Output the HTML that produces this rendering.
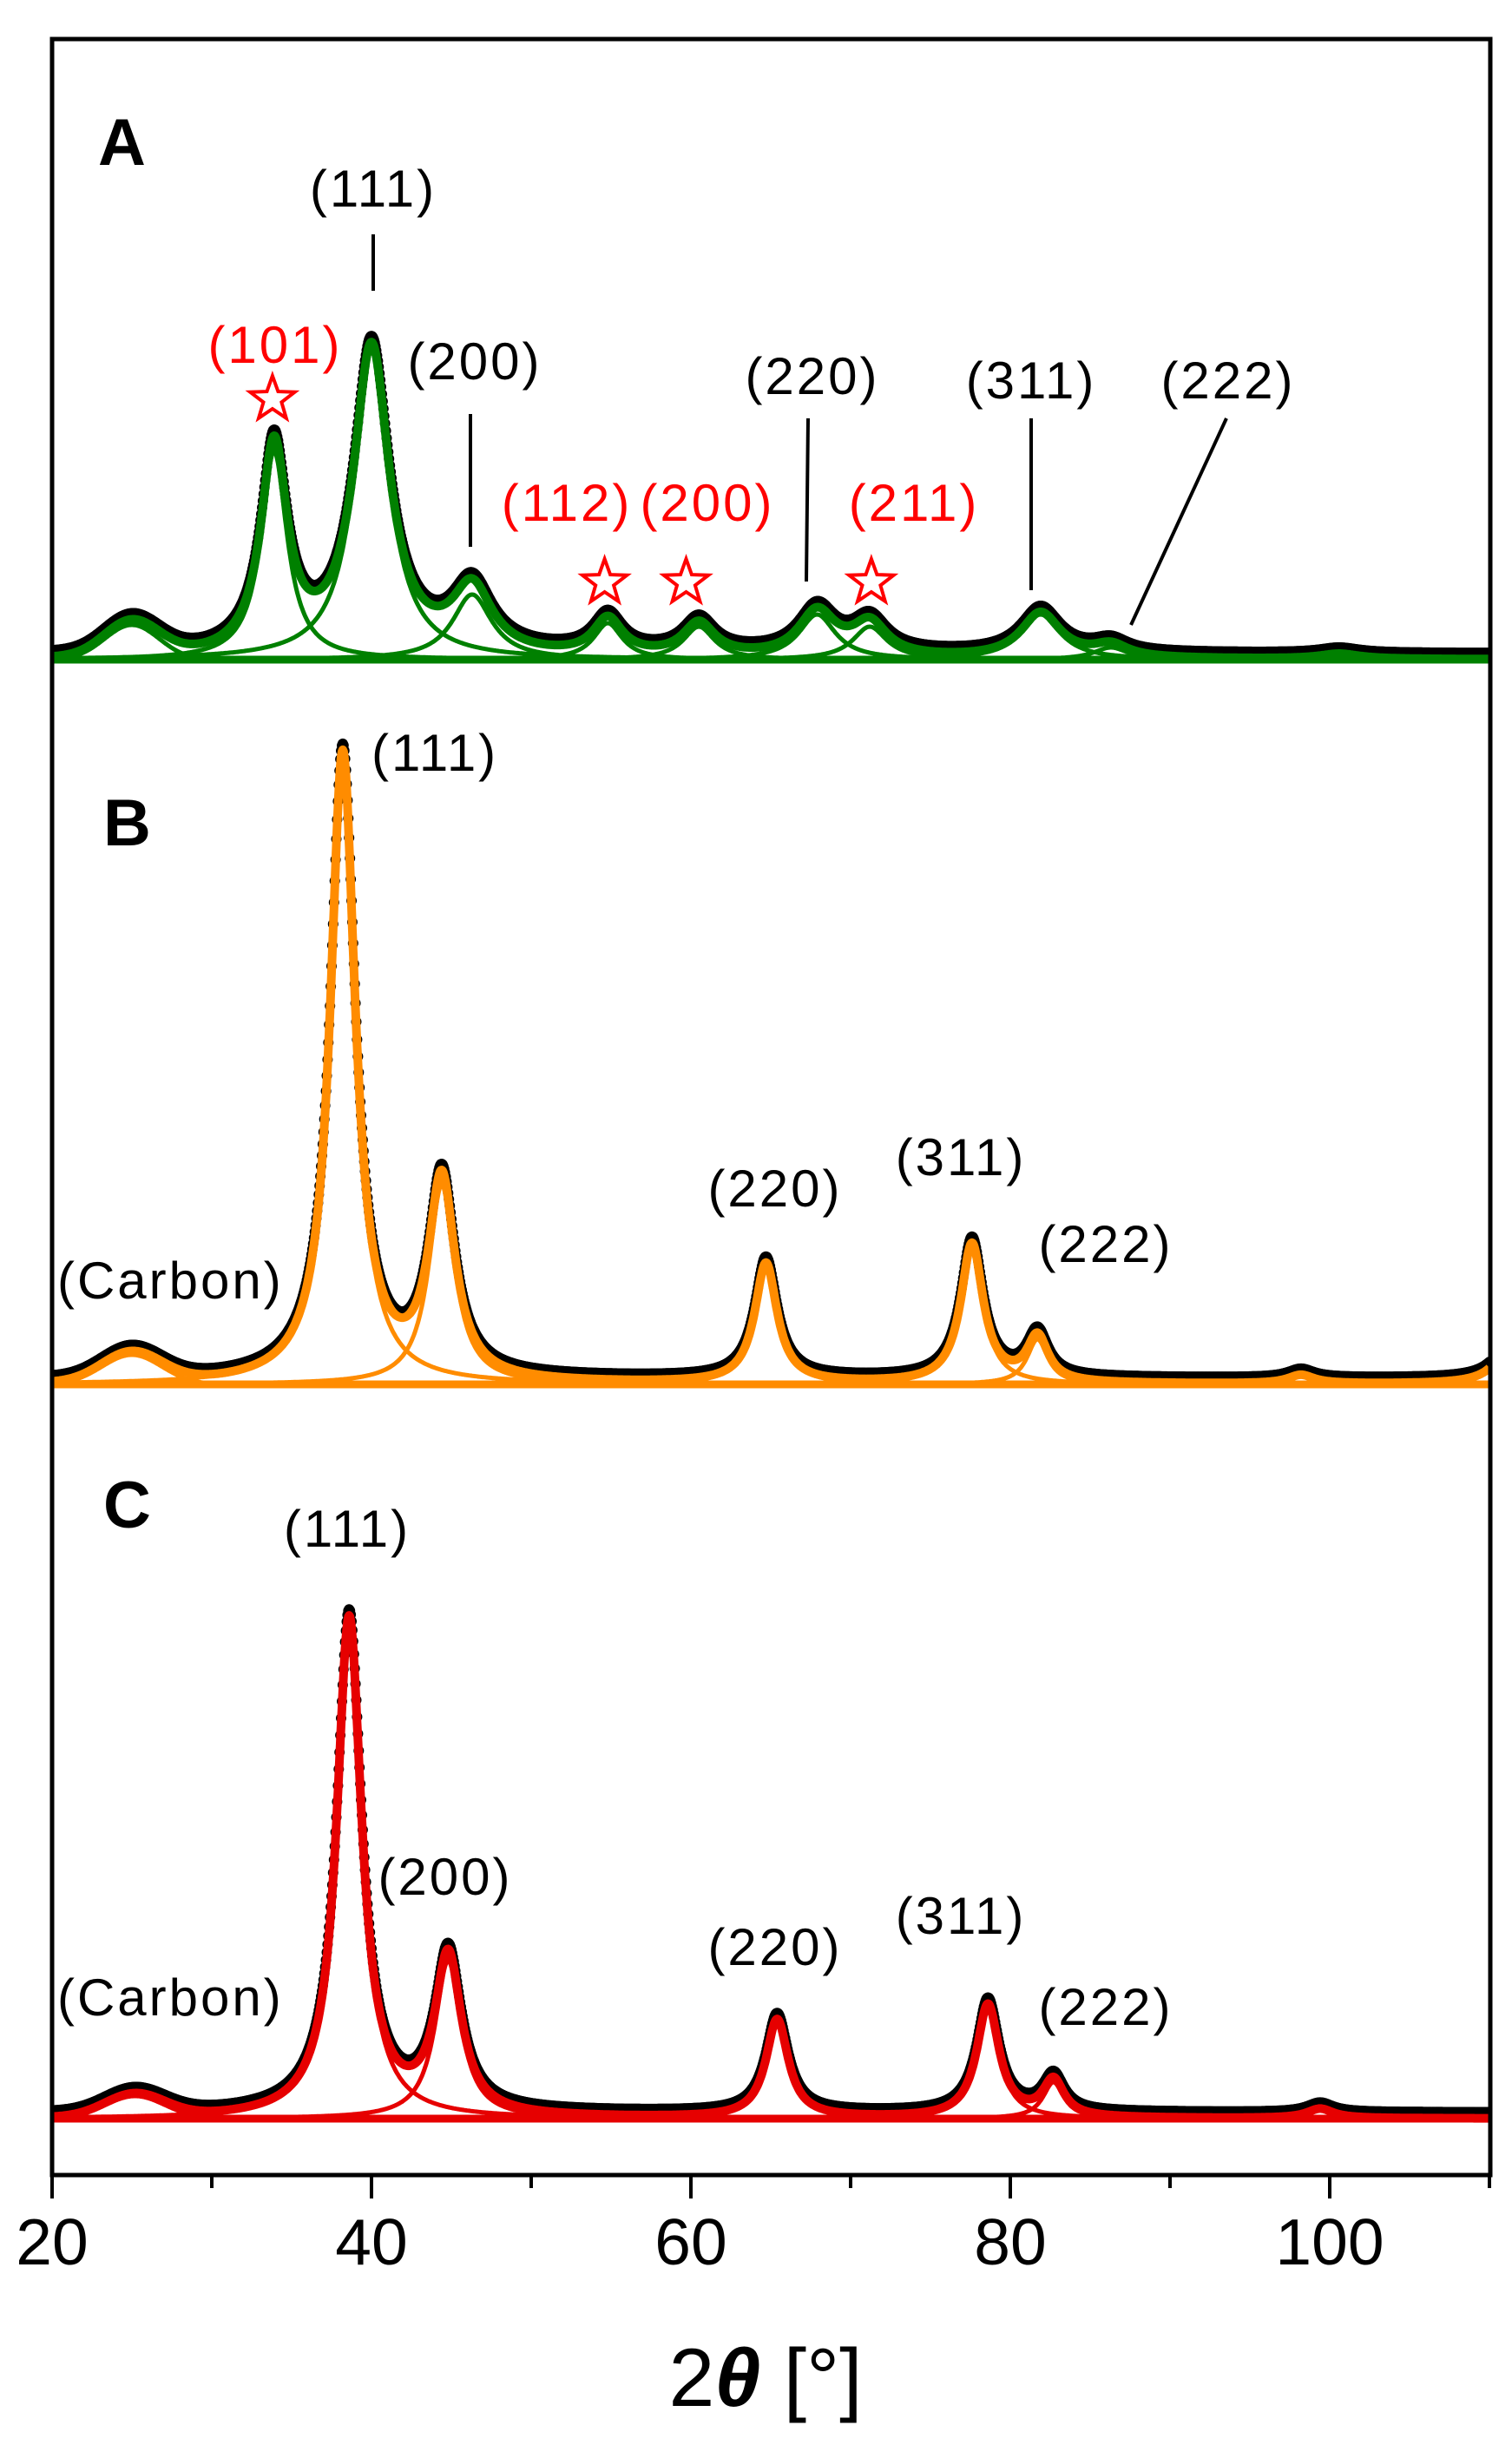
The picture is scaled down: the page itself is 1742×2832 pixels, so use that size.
<!DOCTYPE html>
<html><head><meta charset="utf-8"><style>
html,body{margin:0;padding:0;background:#fff;}
svg{display:block;}
text{font-family:"Liberation Sans",sans-serif;}
.hkl{font-size:60px;letter-spacing:3px;}
</style></head><body>
<svg id="chart" width="1742" height="2832" viewBox="0 0 1742 2832" xmlns="http://www.w3.org/2000/svg">
<defs><clipPath id="clip"><rect x="62" y="47" width="1653" height="2457"/></clipPath></defs>
<g id="plots" clip-path="url(#clip)"></g>
<rect x="60" y="45" width="1657" height="2461" fill="none" stroke="#000" stroke-width="5"/>
<g id="ticks"></g>
<text x="882" y="2772" font-size="95" text-anchor="middle">2<tspan font-weight="bold" font-style="italic">θ</tspan> [°]</text>

<text x="113" y="190" font-size="76" font-weight="bold">A</text>
<text x="119" y="974" font-size="76" font-weight="bold">B</text>
<text x="119" y="1760" font-size="76" font-weight="bold">C</text>

<g>
<text class="hkl" x="430" y="238" text-anchor="middle">(111)</text>
<line x1="430" y1="270" x2="430" y2="335" stroke="#000" stroke-width="4"/>
<text class="hkl" x="317" y="418" text-anchor="middle" fill="#ff0000">(101)</text>
<text class="hkl" x="547" y="437" text-anchor="middle">(200)</text>
<line x1="542" y1="477" x2="542" y2="630" stroke="#000" stroke-width="4"/>
<text class="hkl" x="653" y="600" text-anchor="middle" fill="#ff0000">(112)</text>
<text class="hkl" x="815" y="600" text-anchor="middle" fill="#ff0000">(200)</text>
<text class="hkl" x="936" y="454" text-anchor="middle">(220)</text>
<line x1="931" y1="482" x2="929" y2="670" stroke="#000" stroke-width="4"/>
<text class="hkl" x="1053" y="600" text-anchor="middle" fill="#ff0000">(211)</text>
<text class="hkl" x="1188" y="459" text-anchor="middle">(311)</text>
<line x1="1188" y1="482" x2="1188" y2="680" stroke="#000" stroke-width="4"/>
<text class="hkl" x="1415" y="459" text-anchor="middle">(222)</text>
<line x1="1413" y1="482" x2="1303" y2="720" stroke="#000" stroke-width="4"/>
<g id="stars"></g>
</g>
<g>
<text class="hkl" x="428" y="888">(111)</text>
<text class="hkl" x="66" y="1496">(Carbon)</text>
<text class="hkl" x="893" y="1390" text-anchor="middle">(220)</text>
<text class="hkl" x="1107" y="1354" text-anchor="middle">(311)</text>
<text class="hkl" x="1274" y="1454" text-anchor="middle">(222)</text>
</g>
<g>
<text class="hkl" x="400" y="1782" text-anchor="middle">(111)</text>
<text class="hkl" x="513" y="2183" text-anchor="middle">(200)</text>
<text class="hkl" x="66" y="2322">(Carbon)</text>
<text class="hkl" x="893" y="2264" text-anchor="middle">(220)</text>
<text class="hkl" x="1107" y="2228" text-anchor="middle">(311)</text>
<text class="hkl" x="1274" y="2333" text-anchor="middle">(222)</text>
</g>
</svg>
<script>
// x axis
const xTicks = [20,30,40,50,60,70,80,90,100,110];
const xTickLabels = ["20","","40","","60","","80","","100",""];
// Panel A peaks (2theta, height px, HWHM deg)
const posA = [25.0,33.9,40.0,46.3,54.8,60.5,67.9,71.2,81.9,86.3,100.6];
const hA   = [40,240,355,75,42,38,52,38,52,14,6];
const wA   = [2.0,1.0,1.35,1.5,1.1,1.2,1.4,1.3,1.5,1.3,1.5];
// Panel B peaks
const posB = [25.0,38.2,44.4,64.7,77.6,81.7,98.2,111.5];
const hB   = [34,725,230,138,160,52,10,60];
const wB   = [2.2,0.95,1.0,0.85,0.85,0.8,1.0,1.0];
// Panel C peaks
const posC = [25.2,38.6,44.8,65.4,78.6,82.7,99.4];
const hC   = [26,575,182,113,130,42,11];
const wC   = [2.2,0.95,1.0,0.85,0.85,0.8,1.0];
const starPos = [33.8,54.6,59.7,71.3];

const NS="http://www.w3.org/2000/svg";
function X(t){return 60+(t-20)*18.4;}
function mk(tag,attrs,parent){const e=document.createElementNS(NS,tag);for(const k in attrs)e.setAttribute(k,attrs[k]);parent.appendChild(e);return e;}
function prof(t,c,h,w,i){ if(i===0){return h*Math.exp(-Math.LN2*((t-c)/w)**2);} return h/(1+((t-c)/w)**2);}

const plots=document.getElementById('plots');
function panel(name,base,pos,hs,ws,color){
  const g=mk('g',{},plots);
  
  
  const step=0.05;
  const dg=mk('g',{fill:'#000'},g);
  
  
  for(let t=20;t<=110.01;t+=step){
    let s=0;for(let i=0;i<pos.length;i++)s+=prof(t,pos[i],hs[i],ws[i],i);
    mk('circle',{cx:X(t).toFixed(1),cy:(base-s-7).toFixed(1),r:6},dg);
  }
  for(let i=0;i<pos.length;i++){
    let d='';
    for(let t=20;t<=110.01;t+=step){const y=base-prof(t,pos[i],hs[i],ws[i],i);d+=(d?'L':'M')+X(t).toFixed(1)+','+y.toFixed(1);}
    const p=mk('path',{d:d,fill:'none',stroke:color,'stroke-width':5},g);
    
    
  }
  let d='';
  for(let t=20;t<=110.01;t+=step){let s=0;for(let i=0;i<pos.length;i++)s+=prof(t,pos[i],hs[i],ws[i],i);d+=(d?'L':'M')+X(t).toFixed(1)+','+(base-s).toFixed(1);}
  const p=mk('path',{d:d,fill:'none',stroke:color,'stroke-width':10,'stroke-linejoin':'round'},g);
  
  
  const bl=mk('line',{x1:60,x2:1717,y1:base,y2:base,stroke:color,'stroke-width':9},g);
  
  
}
panel('panel-a',760,posA,hA,wA,'#008000');
panel('panel-b',1595,posB,hB,wB,'#ff8c00');
panel('panel-c',2441,posC,hC,wC,'#e60000');

const sg=document.getElementById('stars');
starPos.forEach(t=>{
  const cx=X(t),cy=671,R=27,r=11;let pts=[];
  for(let k=0;k<10;k++){const a=-Math.PI/2+k*Math.PI/5;const rr=k%2?r:R;pts.push((cx+rr*Math.cos(a)).toFixed(1)+','+(cy+rr*Math.sin(a)).toFixed(1));}
  const s=mk('polygon',{points:pts.join(' '),fill:'none',stroke:'#ff0000','stroke-width':4},sg);
  
  
});
sg.children[0].setAttribute('transform','translate(0,-211)');

const tg=document.getElementById('ticks');
xTicks.forEach((t,i)=>{
  const major=xTickLabels[i]!=='';
  const l=mk('line',{x1:X(t),x2:X(t),y1:2506,y2:major?2533:2521,stroke:'#000','stroke-width':4},tg);
  
  
  if(major){
    const tx=mk('text',{x:X(t),y:2609,'font-size':75,'text-anchor':'middle'},tg);
    tx.textContent=xTickLabels[i];
    
    
  }
});
</script>
</body></html>
